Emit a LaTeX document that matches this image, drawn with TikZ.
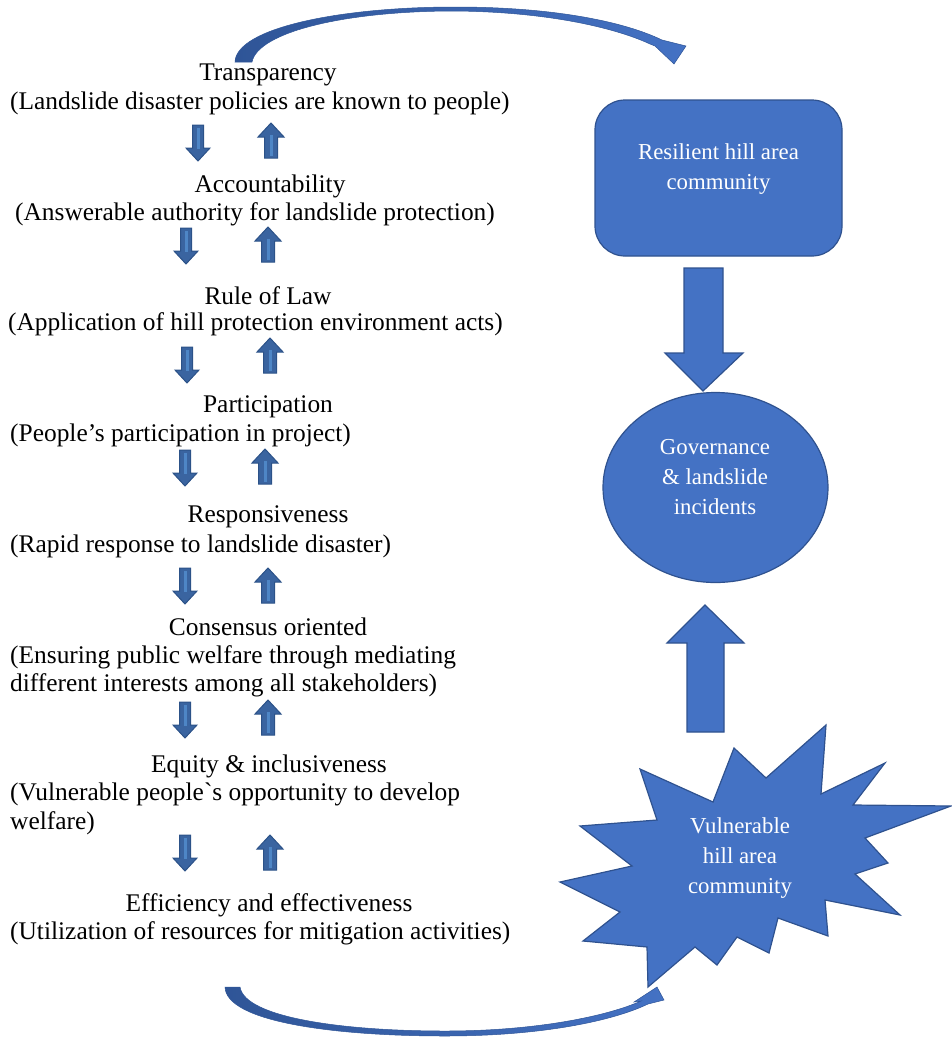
\documentclass[tikz,border=0pt]{standalone}
\usepackage{fontspec}
\setmainfont{Liberation Serif}
\usetikzlibrary{shapes, positioning}
\definecolor{boxblue}{HTML}{4472C4}
\definecolor{boxline}{HTML}{2F528F}
\definecolor{arrblue}{HTML}{3A64A0}
\definecolor{arrline}{HTML}{2C5288}
\definecolor{arrlight}{HTML}{4E86C6}
\definecolor{curvedark}{HTML}{2F5597}
\tikzstyle{title} = [inner sep=0pt, yshift=-2pt, font=\fontsize{25.4}{28.5}\selectfont]
\tikzstyle{note} = [inner sep=0pt, yshift=-2pt, anchor=west, align=left, font=\fontsize{25.4}{28.5}\selectfont]
\tikzstyle{bluefill} = [fill=boxblue, draw=boxline, line width=1.2pt]
\tikzstyle{wtext} = [text=white, align=center, inner sep=0pt, yshift=-2pt, font=\fontsize{22.8}{30}\selectfont]
\tikzstyle{smallarr} = [fill=arrblue, draw=arrline, line width=1pt]
\tikzstyle{stripe} = [draw=arrlight, line width=3pt]
\tikzstyle{curved} = [left color=curvedark, right color=boxblue, draw=curvedark, line width=0.5pt]

\begin{document}
\begin{tikzpicture}[x=1pt, y=-1pt]
			\useasboundingbox (0,0) rectangle (952,1039);

			% left column
			\node [title] (t1) at (268, 73) {Transparency};
			\node [note] (n1) at (10, 101) {(Landslide disaster policies are known to people)};
			\node [title] (t2) at (270, 184) {Accountability};
			\node [note] (n2) at (15, 212) {(Answerable authority for landslide protection)};
			\node [title] (t3) at (268, 294) {Rule of Law};
			\node [note] (n3) at (8, 322) {(Application of hill protection environment acts)};
			\node [title] (t4) at (268, 405) {Participation};
			\node [note] (n4) at (10, 433) {(People's participation in project)};
			\node [title] (t5) at (268, 515) {Responsiveness};
			\node [note] (n5) at (10, 544) {(Rapid response to landslide disaster)};
			\node [title] (t6) at (268, 625) {Consensus oriented};
			\node [note] (n6) at (10, 669.5) {(Ensuring public welfare through mediating\\different interests among all stakeholders)};
			\node [title] (t7) at (269, 764) {Equity \& inclusiveness};
			\node [note] (n7) at (10, 807) {(Vulnerable people\textasciigrave s opportunity to develop\\welfare)};
			\node [title] (t8) at (269, 903) {Efficiency and effectiveness};
			\node [note] (n8) at (10, 931) {(Utilization of resources for mitigation activities)};

			% small arrows between the items
			\foreach \dx/\dy/\ux/\uy in {198/125/271/123, 186/228/268/227, 187/347/270/338, 185/450/265/449,
					185/568/268/568, 185/702/268/700, 185/835/270/835} {
				\path [smallarr] (\dx-5.5,\dy) -- ++(11,0) -- ++(0,23) -- ++(6.5,0) -- (\dx,\dy+36)
					-- (\dx-12,\dy+23) -- ++(6.5,0) -- cycle;
				\path [stripe] (\dx,\dy+3) -- (\dx,\dy+24);
				\path [smallarr] (\ux,\uy) -- (\ux+13,\uy+14) -- (\ux+6.5,\uy+14) -- (\ux+6.5,\uy+35)
					-- (\ux-6.5,\uy+35) -- (\ux-6.5,\uy+14) -- (\ux-13,\uy+14) -- cycle;
				\path [stripe] (\ux,\uy+12) -- (\ux,\uy+33);
			}

			% right column
			\node [bluefill, rounded corners=30pt, minimum width=247pt, minimum height=156pt] (res) at (718.5, 178) {};
			\node [wtext] (restext) at (718.5, 167) {Resilient hill area\\community};
			\path [bluefill] (684,268) -- (723,268) -- (723,353) -- (743,353) -- (703,391) -- (665,353) -- (684,353) -- cycle;
			\node [bluefill, ellipse, inner sep=0pt, minimum width=225pt, minimum height=190pt] (gov) at (715.5, 487.5) {};
			\node [wtext] (govtext) at (715, 475) {Governance\\\& landslide\\incidents};
			\path [bluefill] (687,732) -- (724,732) -- (724,643) -- (744,643) -- (705,605) -- (667,643) -- (687,643) -- cycle;
			\path [bluefill] (826,725) -- (821,794) -- (885,763) -- (853,805) -- (951,806) -- (865,838) -- (888,863)
				-- (855,874) -- (900,915) -- (825,900) -- (828,936) -- (778,918) -- (769,953) -- (737,937)
				-- (717,965) -- (695,947) -- (648,987) -- (647,947) -- (583,941) -- (620,912) -- (560,882)
				-- (632,866) -- (580,826) -- (657,820) -- (640,769) -- (713,802) -- (734,748) -- (766,778) -- cycle;
			\node [wtext] (vuln) at (740, 856) {Vulnerable\\hill area\\community};

			% curved arrows
			\path [curved] (235,62) .. controls (236,28) and (340,7) .. (455,7) .. controls (555,7) and (625,22) .. (662,40)
				-- (686,46) -- (674,64) -- (655,46) -- (650,44) .. controls (620,30) and (555,12) .. (455,11)
				.. controls (345,11) and (258,32) .. (252,62) -- cycle;
			\path [curved] (225,987) .. controls (226,1022) and (335,1036) .. (445,1036) .. controls (545,1036) and (615,1020) .. (648,1004)
				-- (664,1000) -- (657,987) -- (634,1002) -- (641,1001) .. controls (610,1015) and (540,1031) .. (445,1031)
				.. controls (345,1031) and (245,1018) .. (240,987) -- cycle;
		\end{tikzpicture}
\end{document}
